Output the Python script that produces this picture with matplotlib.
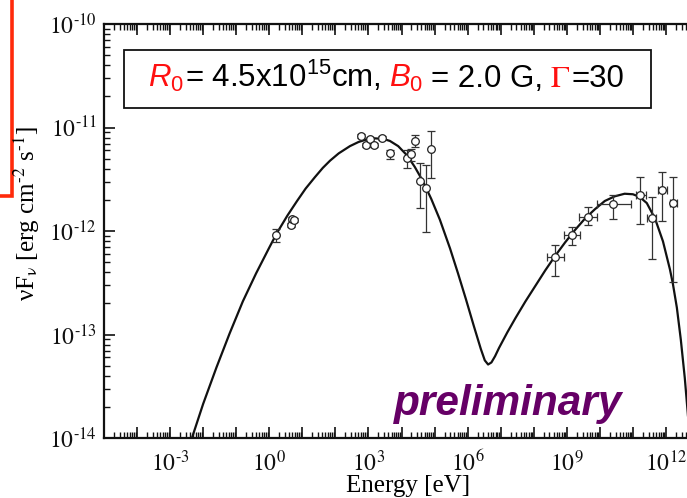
import matplotlib

matplotlib.use("Agg")
import numpy as np  # noqa: E402
import matplotlib.pyplot as plt  # noqa: E402
from matplotlib.patches import Rectangle  # noqa: E402
from matplotlib.ticker import FixedLocator, LogLocator, NullFormatter, FuncFormatter  # noqa: E402

plt.rcParams["mathtext.fontset"] = "stix"
# "custom" math font (used only where asked) -> Arial-like sans
plt.rcParams["mathtext.rm"] = "Liberation Sans"
plt.rcParams["mathtext.it"] = "Liberation Sans:italic"
plt.rcParams["mathtext.bf"] = "Liberation Sans:bold"
plt.rcParams["font.family"] = "Liberation Serif"

W, H = 687, 498
RED = "#ff1010"

# ---- model curve (log10 E [eV], log10 nuFnu) ----
curve_logE = np.array([-2.34, -2.00, -1.60, -1.20, -0.80, -0.40, 0.00, 0.23, 0.55, 0.84,
                       1.10, 1.38, 1.62, 1.84, 2.10, 2.44, 2.70, 2.95, 3.20, 3.45,
                       3.65, 3.90, 4.17, 4.40, 4.65, 4.90, 5.16, 5.47, 5.71, 5.95,
                       6.19, 6.40, 6.52, 6.62, 6.72, 6.83, 6.95, 7.20, 7.45, 7.75,
                       8.05, 8.35, 8.65, 8.95, 9.25, 9.55, 9.85, 10.15, 10.45, 10.75,
                       11.00, 11.20, 11.42, 11.67, 11.91, 12.12, 12.21, 12.33, 12.45, 12.57,
                       12.66, 12.75])
curve_logF = np.array([-14.00, -13.67, -13.32, -12.99, -12.68, -12.41, -12.16, -12.02, -11.85, -11.71,
                       -11.59, -11.48, -11.39, -11.32, -11.25, -11.18, -11.14, -11.115, -11.105, -11.11,
                       -11.13, -11.18, -11.27, -11.38, -11.52, -11.69, -11.89, -12.17, -12.41, -12.66,
                       -12.92, -13.14, -13.25, -13.29, -13.27, -13.21, -13.13, -12.98, -12.84, -12.68,
                       -12.53, -12.38, -12.24, -12.11, -11.99, -11.88, -11.79, -11.71, -11.665, -11.64,
                       -11.645, -11.67, -11.73, -11.88, -12.10, -12.37, -12.51, -12.74, -13.05, -13.42,
                       -13.76, -14.15])

# ---- optical / X-ray points ----
sync_logE = np.array([0.20, 0.66, 0.68, 0.76, 2.76, 2.92, 3.05, 3.17, 3.42, 3.65,
                      4.16, 4.28, 4.41, 4.56, 4.74, 4.89])
sync_logF = np.array([-12.04, -11.94, -11.88, -11.89, -11.08, -11.17, -11.11, -11.17, -11.10, -11.25,
                      -11.29, -11.26, -11.13, -11.52, -11.58, -11.21])
sync_lo = np.array([-12.11, -11.96, -11.90, -11.91, -11.10, -11.19, -11.13, -11.19, -11.12, -11.30,
                    -11.39, -11.32, -11.19, -11.78, -12.01, -11.49])
sync_hi = np.array([-11.98, -11.92, -11.86, -11.87, -11.06, -11.15, -11.09, -11.15, -11.08, -11.22,
                    -11.22, -11.21, -11.07, -11.34, -11.36, -11.03])

# ---- gamma-ray points ----
gam_logE = np.array([8.64, 9.15, 9.65, 10.41, 11.21, 11.57, 11.89, 12.22])
gam_Elo = np.array([8.41, 8.91, 9.38, 9.90, 11.08, 11.43, 11.77, 12.12])
gam_Ehi = np.array([8.91, 9.40, 9.92, 10.93, 11.39, 11.70, 12.02, 12.34])
gam_logF = np.array([-12.25, -12.04, -11.86, -11.74, -11.65, -11.87, -11.60, -11.73])
gam_lo = np.array([-12.43, -12.14, -11.94, -11.88, -11.93, -12.27, -11.90, -12.49])
gam_hi = np.array([-12.14, -11.96, -11.77, -11.65, -11.48, -11.67, -11.43, -11.48])

fig = plt.figure(figsize=(W / 100, H / 100), dpi=100)
fig.patch.set_facecolor("white")
ax = fig.add_axes([104 / W, 1 - 438 / H, 595 / W, 414 / H])
ax.set_xscale("log")
ax.set_yscale("log")
ax.set_xlim(1e-5, 1e13)
ax.set_ylim(1e-14, 1e-10)

ax.plot(10 ** curve_logE, 10 ** curve_logF, color="#111111", lw=1.6, zorder=2,
        solid_joinstyle="round", solid_capstyle="round")

eb = dict(fmt="o", ms=5.5, mfc="white", mec="#222222", mew=0.9, ecolor="#333333",
          elinewidth=0.9, capsize=3, capthick=0.9, zorder=3)
sx, sy = 10 ** sync_logE, 10 ** sync_logF
ax.errorbar(sx, sy, yerr=[sy - 10 ** sync_lo, 10 ** sync_hi - sy], **eb)
gx, gy = 10 ** gam_logE, 10 ** gam_logF
ax.errorbar(gx, gy, xerr=[gx - 10 ** gam_Elo, 10 ** gam_Ehi - gx],
            yerr=[gy - 10 ** gam_lo, 10 ** gam_hi - gy], **eb)


def pow_label(k):
    if k < 0:
        return r"$10^{\text{-}%d}$" % (-k)
    return r"$10^{%d}$" % k


# ---- axes cosmetics ----
ax.xaxis.set_major_locator(FixedLocator(10.0 ** np.arange(-5, 14)))
ax.xaxis.set_major_formatter(FuncFormatter(
    lambda v, p: pow_label(round(np.log10(v))) if round(np.log10(v)) % 3 == 0 else ""))
ax.xaxis.set_minor_locator(LogLocator(base=10, subs=np.arange(2, 10), numticks=100))
ax.xaxis.set_minor_formatter(NullFormatter())
ax.yaxis.set_major_locator(FixedLocator(10.0 ** np.arange(-14, -9)))
ax.yaxis.set_major_formatter(FuncFormatter(lambda v, p: pow_label(round(np.log10(v)))))
ax.yaxis.set_minor_locator(LogLocator(base=10, subs=np.arange(2, 10), numticks=100))
ax.yaxis.set_minor_formatter(NullFormatter())
ax.tick_params(which="both", direction="in", top=True, right=True, colors="#111111",
               labelsize=17)
ax.tick_params(which="major", length=8, width=1.2)
ax.tick_params(which="minor", length=4.5, width=1.0)
ax.tick_params(axis="x", which="major", pad=9)
ax.tick_params(axis="y", which="major", pad=5)
for sp in ax.spines.values():
    sp.set_linewidth(1.6)
    sp.set_color("#111111")

fig.text(408 / W, 1 - 492 / H, "Energy [eV]", fontsize=18, ha="center", va="baseline")
fig.text(27 / W, 1 - 214 / H,
         "\u03bdF$_{\\text{\u03bd}}$ [erg cm$^{\\text{-}2}$ s$^{\\text{-}1}$]",
         fontsize=18, rotation=90, ha="center", va="center")

# ---- parameter box ----
ax.add_patch(Rectangle((124 / W, 1 - 108 / H), 527 / W, 58 / H, transform=fig.transFigure,
                       fc="white", ec="#111111", lw=1.3, zorder=5, clip_on=False))
r = fig.canvas.get_renderer()
pieces = [("$R_0$", RED, "custom", 0), ("= 4.5x10$^{15}$cm,", "black", "custom", 1),
          ("$B_0$", RED, "custom", 8), ("= 2.0 G,", "black", "custom", 8),
          (r"$\Gamma$", RED, "stix", 7), ("=30", "black", "custom", 1)]
texts, widths = [], []
for s, c, mf, gap in pieces:
    t = fig.text(0, 1 - 87 / H, s, color=c, fontsize=22.5, family="Liberation Sans",
                 math_fontfamily=mf, va="baseline", ha="left", zorder=6)
    texts.append(t)
    widths.append(t.get_window_extent(r).width)
total = sum(widths) + sum(p[3] for p in pieces)
x = 386 - total / 2
for t, w, p in zip(texts, widths, pieces):
    x += p[3]
    t.set_x(x / W)
    x += w

fig.text(508 / W, 1 - 415 / H, "preliminary", fontsize=30.5, family="Liberation Sans",
         weight="bold", style="italic", color="#660066", ha="center", va="baseline")

# red frame poking in from the left
fig.add_artist(Rectangle((-0.2, 1 - 196 / H), 0.2 + 11.5 / W, 1.0, transform=fig.transFigure,
                         fc="none", ec="#ff2a0a", lw=2.6, clip_on=False))

fig.savefig("out.png", dpi=100)
